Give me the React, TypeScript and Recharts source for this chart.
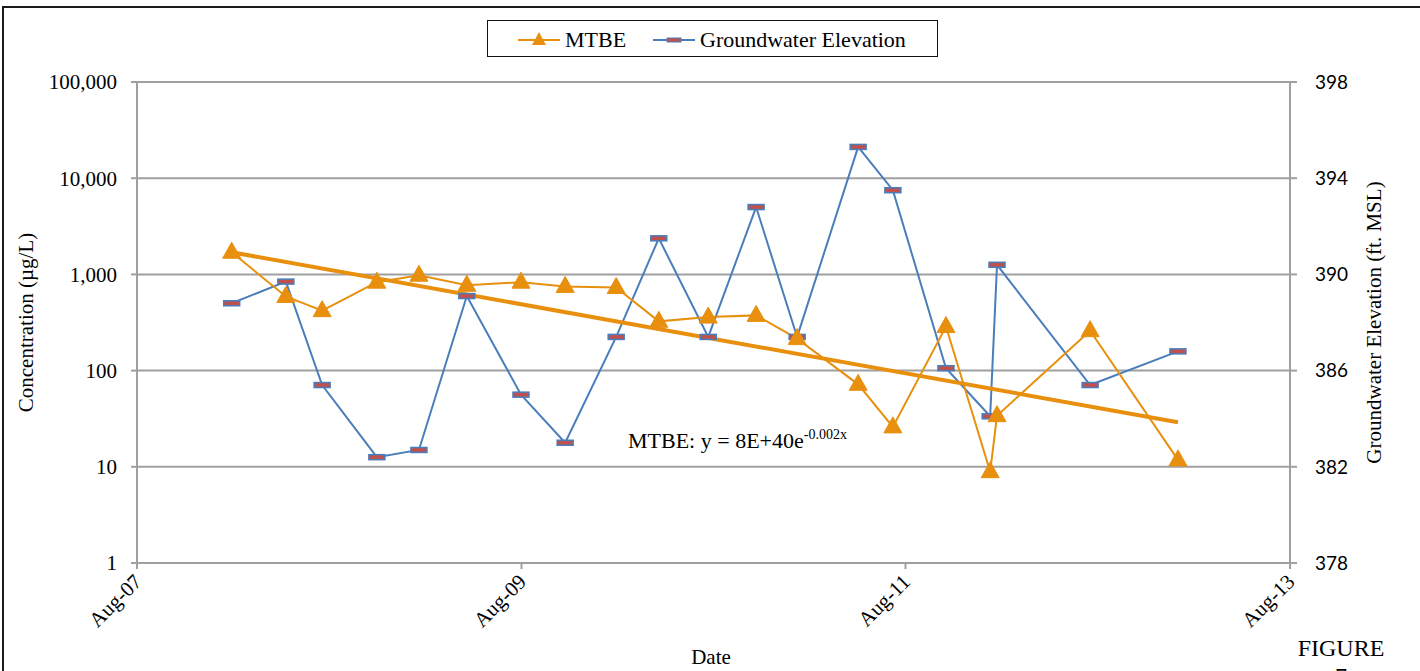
import React from 'react';
import { ComposedChart, Line, XAxis, YAxis, CartesianGrid } from 'recharts';

// sampling dates
const dates = [
  '2008-01-28', '2008-05-10', '2008-07-18', '2008-10-30', '2009-01-18',
  '2009-04-19', '2009-07-31', '2009-10-23', '2010-01-28', '2010-04-19',
  '2010-07-22', '2010-10-21', '2011-01-07', '2011-05-03', '2011-07-08',
  '2011-10-17', '2012-01-09', '2012-01-22', '2012-07-17', '2012-12-31',
];

// MTBE concentration (ug/L)
const mtbe = [1700, 590, 420, 830, 980, 770, 830, 750, 730, 325, 360, 375, 215, 72, 26, 287, 8.9, 34, 260, 11.8];

// groundwater elevation (ft MSL)
const gwElev = [
  388.8, 389.7, 385.4, 382.4, 382.7, 389.1, 385.0, 383.0, 387.4, 391.5,
  387.4, 392.8, 387.4, 395.3, 393.5, 386.1, 384.1, 390.4, 385.4, 386.8,
];

// exponential trendline end points (straight on the log axis)
const trendDates = ['2008-01-28', '2012-12-31'];
const trendValues = [1700, 29];

const xTickDates = ['2007-08-01', '2009-08-01', '2011-08-01', '2013-08-01'];
const xTickLabels = ['Aug-07', 'Aug-09', 'Aug-11', 'Aug-13'];
const leftTicks = [1, 10, 100, 1000, 10000, 100000];
const rightTicks = [378, 382, 386, 390, 394, 398];

const ts = (d: string) => Date.parse(d + 'T00:00:00Z');

const data = dates.map((d, i) => ({ t: ts(d), mtbe: mtbe[i], gw: gwElev[i] }));
const trend = trendDates.map((d, i) => ({ t: ts(d), trend: trendValues[i] }));
const xTicks = xTickDates.map(ts);

const ORANGE = '#E8900E';
const BLUE = '#4A7EBB';
const RED = '#C0504D';
const GRID = '#a0a0a0';
const SERIF = '"Liberation Serif", "DejaVu Serif", serif';
const SANS = 'Lato, "Liberation Sans", sans-serif';

const Triangle = ({ cx, cy }: any) => {
  if (cx == null || cy == null) return null;
  return <path d={`M${cx},${cy - 10} L${cx + 9},${cy + 6} L${cx - 9},${cy + 6} Z`} fill={ORANGE} stroke={ORANGE} />;
};

const Dash = ({ cx, cy }: any) => {
  if (cx == null || cy == null) return null;
  return <rect x={cx - 8} y={cy - 2.5} width={16} height={5} fill={RED} stroke={BLUE} strokeWidth={1.5} />;
};

const XTick = ({ x, y, payload }: any) => {
  const idx = xTicks.indexOf(payload.value);
  return (
    <text
      x={x + 6}
      y={y + 12}
      transform={`rotate(-45 ${x + 6} ${y + 12})`}
      textAnchor="end"
      fontFamily={SERIF}
      fontSize={21}
      fill="#000"
    >
      {idx >= 0 ? xTickLabels[idx] : ''}
    </text>
  );
};

export default function App() {
  return (
    <div style={{ position: 'absolute', left: 0, top: 0, width: 1420, height: 671, overflow: 'hidden', background: '#fff' }}>
      <ComposedChart
        width={1420}
        height={671}
        data={data}
        margin={{ top: 82, right: 0, bottom: 0, left: 0 }}
        style={{ position: 'absolute', left: 0, top: 0 }}
      >
        <line x1={3} y1={7} x2={1420} y2={7} stroke="#1a1a1a" strokeWidth={2} />
        <line x1={3} y1={6} x2={3} y2={671} stroke="#1a1a1a" strokeWidth={2} />
        <CartesianGrid yAxisId="left" vertical={false} stroke={GRID} strokeWidth={2} />
        <XAxis
          dataKey="t"
          type="number"
          domain={[xTicks[0], xTicks[xTicks.length - 1]]}
          ticks={xTicks}
          height={108}
          stroke={GRID}
          strokeWidth={2}
          tickSize={6}
          tick={<XTick />}
          interval={0}
        />
        <YAxis
          yAxisId="left"
          scale="log"
          domain={[1, 100000]}
          ticks={leftTicks}
          allowDataOverflow
          width={137}
          stroke={GRID}
          strokeWidth={2}
          tickSize={6}
          tickMargin={14}
          interval={0}
          tickFormatter={(v: number) => v.toLocaleString('en-US')}
          tick={{ fill: '#000', fontFamily: SERIF, fontSize: 21 }}
          label={{
            value: 'Concentration (µg/L)', angle: -90, position: 'insideLeft', offset: 26,
            style: { fill: '#000', fontFamily: SERIF, fontSize: 21, textAnchor: 'middle' },
          }}
        />
        <YAxis
          yAxisId="right"
          orientation="right"
          domain={[378, 398]}
          ticks={rightTicks}
          width={130}
          stroke={GRID}
          strokeWidth={2}
          tickSize={7}
          tickMargin={18}
          interval={0}
          tick={{ fill: '#000', fontFamily: SANS, fontSize: 19 }}
          label={{
            value: 'Groundwater Elevation (ft. MSL)', angle: -90, position: 'insideRight', offset: 46,
            style: { fill: '#000', fontFamily: SERIF, fontSize: 21, textAnchor: 'middle' },
          }}
        />
        <Line
          yAxisId="right"
          dataKey="gw"
          stroke={BLUE}
          strokeWidth={2}
          dot={<Dash />}
          activeDot={false}
          isAnimationActive={false}
        />
        <Line
          yAxisId="left"
          dataKey="mtbe"
          stroke={ORANGE}
          strokeWidth={2}
          dot={<Triangle />}
          activeDot={false}
          isAnimationActive={false}
        />
        <Line
          yAxisId="left"
          data={trend}
          dataKey="trend"
          stroke={ORANGE}
          strokeWidth={4}
          dot={false}
          activeDot={false}
          isAnimationActive={false}
        />
        <text x={628} y={448} fontFamily={SERIF} fontSize={22} fill="#000">
          MTBE: y = 8E+40e
          <tspan dy={-9} fontSize={14}>-0.002x</tspan>
        </text>
        <text x={711} y={664} textAnchor="middle" fontFamily={SERIF} fontSize={21} fill="#000">Date</text>
        <text x={1341} y={656} textAnchor="middle" fontFamily={SERIF} fontSize={24} fill="#000">FIGURE</text>
        <text x={1341} y={684} textAnchor="middle" fontFamily={SERIF} fontSize={24} fill="#000">7</text>
      </ComposedChart>
      <div
        style={{
          position: 'absolute', left: 487, top: 20, width: 449, height: 35, zIndex: 3,
          border: '1.5px solid #111', background: '#fff',
        }}
      >
        <svg width={449} height={35} style={{ position: 'absolute', left: 0, top: 0 }}>
          <line x1={30} y1={19} x2={72} y2={19} stroke={ORANGE} strokeWidth={2} />
          <path d="M51,11 L58,24 L44,24 Z" fill={ORANGE} />
          <text x={77} y={26} fontFamily={SERIF} fontSize={22} fill="#000">MTBE</text>
          <line x1={165} y1={19} x2={207} y2={19} stroke={BLUE} strokeWidth={2} />
          <rect x={179} y={17} width={14} height={4} fill={RED} stroke={BLUE} strokeWidth={1} />
          <text x={212} y={26} fontFamily={SERIF} fontSize={22} fill="#000">Groundwater Elevation</text>
        </svg>
      </div>
    </div>
  );
}
